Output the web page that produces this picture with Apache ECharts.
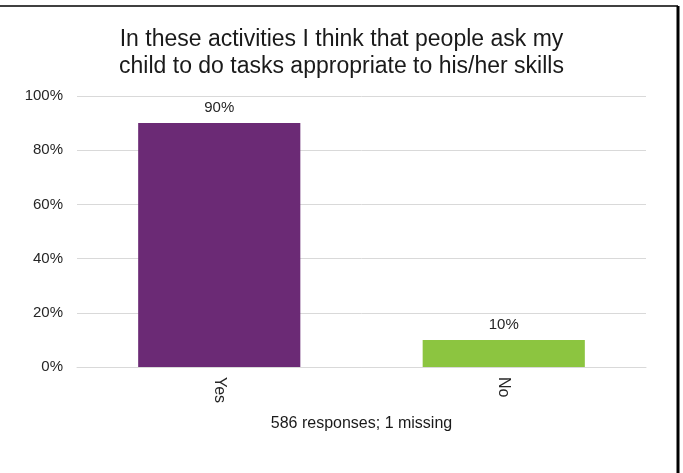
<!DOCTYPE html>
<html>
<head>
<meta charset="utf-8">
<script src="https://cdn.jsdelivr.net/npm/echarts@6/dist/echarts.min.js"></script>
<style>
  html, body { margin: 0; padding: 0; background: #fff; }
  #chart { width: 683px; height: 473px; }
</style>
</head>
<body>
<div id="chart"></div>
<script>
// Survey answers and their shares (percent)
const categories = ['Yes', 'No'];
const shares = [90, 10];
const barColors = ['#6B2A75', '#8CC540'];
const yTicks = [0, 20, 40, 60, 80, 100];
const titleText = 'In these activities I think that people ask my\nchild to do tasks appropriate to his/her skills';
const footnote = '586 responses; 1 missing';

const chart = echarts.init(document.getElementById('chart'), null, { renderer: 'canvas' });

chart.setOption({
  backgroundColor: '#ffffff',
  animation: false,
  textStyle: { fontFamily: 'Liberation Sans, Arial, sans-serif' },
  title: {
    text: titleText,
    left: 'center',
    top: 21,
    textStyle: {
      fontFamily: 'Liberation Sans, Arial, sans-serif',
      fontSize: 23,
      fontWeight: 'normal',
      color: '#1a1a1a',
      lineHeight: 27
    }
  },
  grid: { left: 77, right: 37, top: 96, bottom: 106, containLabel: false },
  xAxis: {
    type: 'category',
    data: categories,
    name: footnote,
    nameLocation: 'middle',
    nameGap: 49,
    nameTextStyle: { fontSize: 16, color: '#1a1a1a' },
    axisLine: { show: true, lineStyle: { color: '#d9d9d9', width: 1 } },
    axisTick: { show: false },
    axisLabel: {
      rotate: -90,
      fontSize: 16,
      color: '#262626',
      margin: 10
    }
  },
  yAxis: {
    type: 'value',
    min: yTicks[0],
    max: yTicks[yTicks.length - 1],
    interval: yTicks[1] - yTicks[0],
    axisLine: { show: false },
    axisTick: { show: false },
    splitLine: { lineStyle: { color: '#d9d9d9', width: 1 } },
    axisLabel: {
      formatter: v => v + '%',
      fontSize: 15,
      color: '#262626',
      margin: 14
    }
  },
  series: [{
    type: 'bar',
    barWidth: '57%',
    data: shares.map((v, i) => ({ value: v, itemStyle: { color: barColors[i] } })),
    label: {
      show: true,
      position: 'top',
      distance: 8,
      formatter: p => p.value + '%',
      fontSize: 15,
      color: '#262626'
    }
  }],
  graphic: [
    { type: 'line', shape: { x1: 0, y1: 6, x2: 678, y2: 6 }, style: { stroke: '#000', lineWidth: 1.5 } },
    { type: 'line', shape: { x1: 678, y1: 6, x2: 678, y2: 473 }, style: { stroke: '#000', lineWidth: 3 } }
  ]
});
</script>
</body>
</html>
